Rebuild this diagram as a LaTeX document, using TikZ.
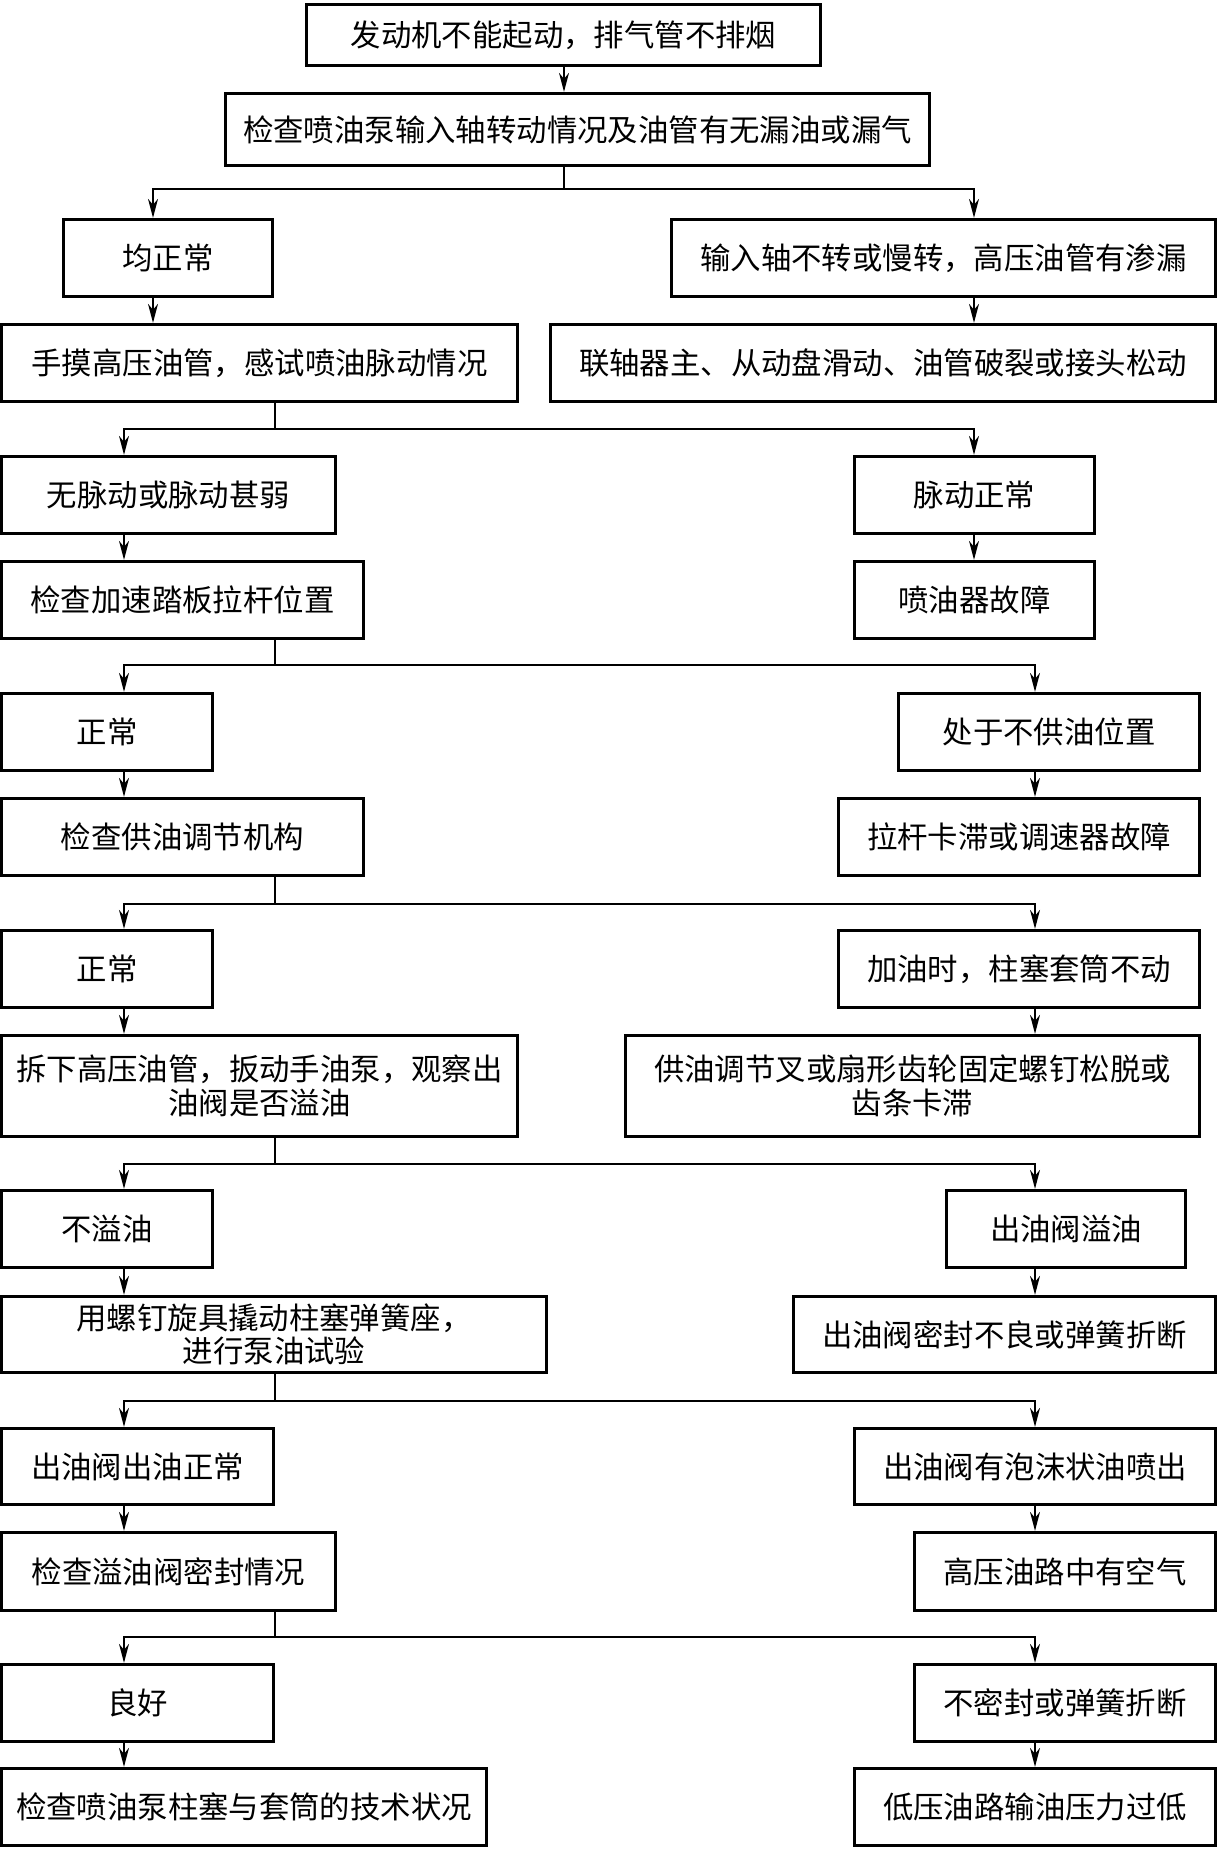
\documentclass[tikz,border=0pt]{standalone}
\usepackage{fontspec}
\newfontfamily\cjk{Noto Sans CJK SC}
\usepackage{tikz}
\usetikzlibrary{arrows.meta, calc}

\begin{document}
\begin{tikzpicture}[x=0.02cm, y=-0.02cm,
    box/.style={draw, rectangle, line width=1.9pt, inner sep=0pt, align=center,
        font=\cjk\fontsize{17.3}{19}\selectfont},
    ln/.style={line width=0.75pt},
    arr/.style={ln, -{Stealth[length=0.38cm, width=0.2cm, inset=0.12cm]}}]

    % 0. Page frame
    \useasboundingbox (0,0) rectangle (1219,1849);

    % 1. Column coordinates for the connectors
    % Left stems drop from x=275, arrows enter at x=124 / x=1035
    \coordinate (cs) at (275,0);
    \coordinate (cl) at (124,0);
    \coordinate (cr) at (1035,0);
    \coordinate (cl0) at (153,0);
    \coordinate (cr0) at (974,0);

    % 2. Top of the chart
    \node[box, minimum width=10.28cm, minimum height=1.22cm] (n1) at (563.5,35) {发动机不能起动，排气管不排烟};
    \node[box, minimum width=14.08cm, minimum height=1.44cm] (n2) at (577.5,129.5) {检查喷油泵输入轴转动情况及油管有无漏油或漏气};

    % 3. First split
    \node[box, minimum width=4.18cm, minimum height=1.54cm] (n3) at (168,258) {均正常};
    \node[box, minimum width=10.88cm, minimum height=1.54cm] (n4) at (943.5,258) {输入轴不转或慢转，高压油管有渗漏};
    \node[box, minimum width=10.32cm, minimum height=1.54cm] (n5) at (259.5,363) {手摸高压油管，感试喷油脉动情况};
    \node[box, minimum width=13.30cm, minimum height=1.54cm] (n6) at (883,363) {联轴器主、从动盘滑动、油管破裂或接头松动};

    % 4. Second split
    \node[box, minimum width=6.68cm, minimum height=1.54cm] (n7) at (168.5,495) {无脉动或脉动甚弱};
    \node[box, minimum width=4.80cm, minimum height=1.54cm] (n8) at (974.5,495) {脉动正常};
    \node[box, minimum width=7.24cm, minimum height=1.54cm] (n9) at (182.5,600) {检查加速踏板拉杆位置};
    \node[box, minimum width=4.80cm, minimum height=1.54cm] (n10) at (974.5,600) {喷油器故障};

    % 5. Third split
    \node[box, minimum width=4.22cm, minimum height=1.54cm] (n11) at (107,732) {正常};
    \node[box, minimum width=6.02cm, minimum height=1.54cm] (n12) at (1049,732) {处于不供油位置};
    \node[box, minimum width=7.24cm, minimum height=1.54cm] (n13) at (182.5,837) {检查供油调节机构};
    \node[box, minimum width=7.22cm, minimum height=1.54cm] (n14) at (1019,837) {拉杆卡滞或调速器故障};

    % 6. Fourth split
    \node[box, minimum width=4.22cm, minimum height=1.54cm] (n15) at (107,969) {正常};
    \node[box, minimum width=7.22cm, minimum height=1.54cm] (n16) at (1019,969) {加油时，柱塞套筒不动};
    \node[box, minimum width=10.32cm, minimum height=2.02cm] (n17) at (259.5,1086) {拆下高压油管，扳动手油泵，观察出\\油阀是否溢油};
    \node[box, minimum width=11.48cm, minimum height=2.02cm] (n18) at (912.5,1086) {供油调节叉或扇形齿轮固定螺钉松脱或\\齿条卡滞};

    % 7. Fifth split
    \node[box, minimum width=4.22cm, minimum height=1.54cm] (n19) at (107,1229) {不溢油};
    \node[box, minimum width=4.78cm, minimum height=1.54cm] (n20) at (1066,1229) {出油阀溢油};
    \node[box, minimum width=10.90cm, minimum height=1.52cm] (n21) at (274,1334.5) {用螺钉旋具撬动柱塞弹簧座，\\进行泵油试验};
    \node[box, minimum width=8.44cm, minimum height=1.52cm] (n22) at (1004.5,1334.5) {出油阀密封不良或弹簧折断};

    % 8. Sixth split
    \node[box, minimum width=5.44cm, minimum height=1.52cm] (n23) at (137.5,1466.5) {出油阀出油正常};
    \node[box, minimum width=7.22cm, minimum height=1.52cm] (n24) at (1035,1466.5) {出油阀有泡沫状油喷出};
    \node[box, minimum width=6.68cm, minimum height=1.56cm] (n25) at (168.5,1571.5) {检查溢油阀密封情况};
    \node[box, minimum width=6.02cm, minimum height=1.56cm] (n26) at (1065,1571.5) {高压油路中有空气};

    % 9. Last split
    \node[box, minimum width=5.44cm, minimum height=1.54cm] (n27) at (137.5,1703) {良好};
    \node[box, minimum width=6.02cm, minimum height=1.54cm] (n28) at (1065,1703) {不密封或弹簧折断};
    \node[box, minimum width=9.70cm, minimum height=1.54cm] (n29) at (244,1807) {检查喷油泵柱塞与套筒的技术状况};
    \node[box, minimum width=7.22cm, minimum height=1.54cm] (n30) at (1035,1807) {低压油路输油压力过低};

    % 10. Branch points
    \coordinate (b1) at (564,189);
    \coordinate (b2) at (275,429);
    \coordinate (b3) at (275,665);
    \coordinate (b4) at (275,904);
    \coordinate (b5) at (275,1164);
    \coordinate (b6) at (275,1401);
    \coordinate (b7) at (275,1637);

    % 11. Connectors
    \draw[arr] (n1.south -| b1) -- (n2.north -| b1);
    \draw[ln] (n2.south -| b1) -- (b1);
    \draw[arr] (b1) -| (n3.north -| cl0);
    \draw[arr] (b1) -| (n4.north -| cr0);
    \draw[arr] (n3.south -| cl0) -- (n5.north -| cl0);
    \draw[arr] (n4.south -| cr0) -- (n6.north -| cr0);

    \draw[ln] (n5.south -| b2) -- (b2);
    \draw[arr] (b2) -| (n7.north -| cl);
    \draw[arr] (b2) -| (n8.north -| cr0);
    \draw[arr] (n7.south -| cl) -- (n9.north -| cl);
    \draw[arr] (n8.south -| cr0) -- (n10.north -| cr0);

    \draw[ln] (n9.south -| b3) -- (b3);
    \draw[arr] (b3) -| (n11.north -| cl);
    \draw[arr] (b3) -| (n12.north -| cr);
    \draw[arr] (n11.south -| cl) -- (n13.north -| cl);
    \draw[arr] (n12.south -| cr) -- (n14.north -| cr);

    \draw[ln] (n13.south -| b4) -- (b4);
    \draw[arr] (b4) -| (n15.north -| cl);
    \draw[arr] (b4) -| (n16.north -| cr);
    \draw[arr] (n15.south -| cl) -- (n17.north -| cl);
    \draw[arr] (n16.south -| cr) -- (n18.north -| cr);

    \draw[ln] (n17.south -| b5) -- (b5);
    \draw[arr] (b5) -| (n19.north -| cl);
    \draw[arr] (b5) -| (n20.north -| cr);
    \draw[arr] (n19.south -| cl) -- (n21.north -| cl);
    \draw[arr] (n20.south -| cr) -- (n22.north -| cr);

    \draw[ln] (n21.south -| b6) -- (b6);
    \draw[arr] (b6) -| (n23.north -| cl);
    \draw[arr] (b6) -| (n24.north -| cr);
    \draw[arr] (n23.south -| cl) -- (n25.north -| cl);
    \draw[arr] (n24.south -| cr) -- (n26.north -| cr);

    \draw[ln] (n25.south -| b7) -- (b7);
    \draw[arr] (b7) -| (n27.north -| cl);
    \draw[arr] (b7) -| (n28.north -| cr);
    \draw[arr] (n27.south -| cl) -- (n29.north -| cl);
    \draw[arr] (n28.south -| cr) -- (n30.north -| cr);

\end{tikzpicture}
\end{document}
